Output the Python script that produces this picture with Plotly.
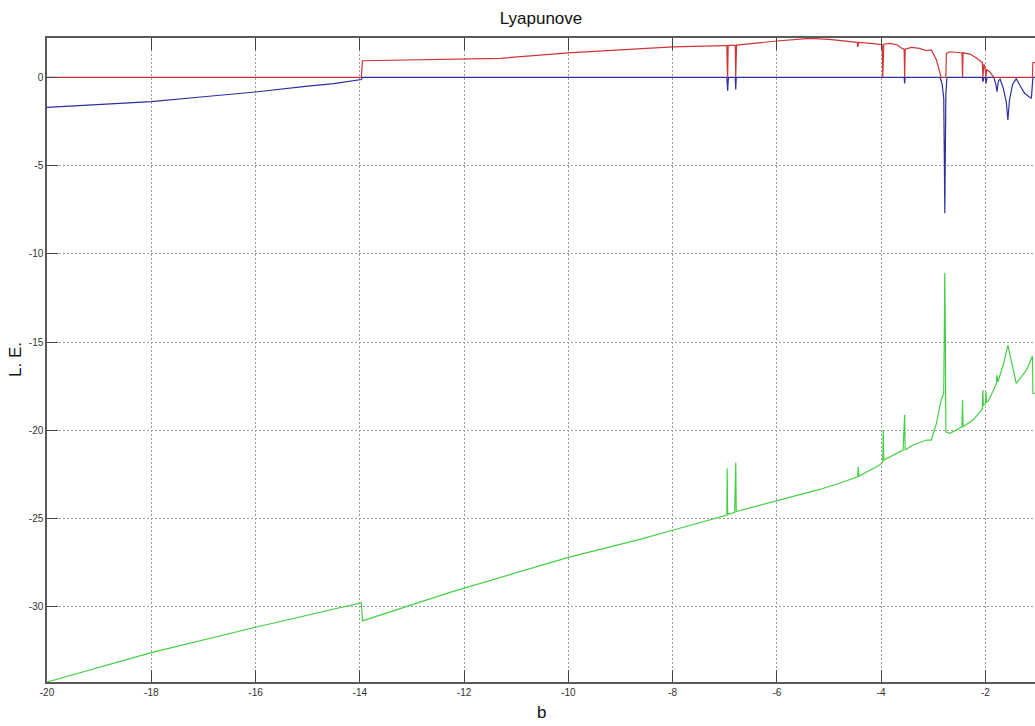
import plotly.graph_objects as go

# Lyapunov exponent spectrum versus parameter b (three exponents)

# largest exponent (red)
b_le1 = [-20.0, -13.97, -13.95, -12.27, -11.3, -10.0, -8.0, -7.0, -6.96, -6.955, -6.945,
         -6.935, -6.80, -6.79, -6.775, -6.0, -5.37, -5.0, -4.8, -4.6, -4.46, -4.45, -4.43,
         -4.1, -4.03, -3.98, -3.97, -3.95, -3.83, -3.7, -3.60, -3.56, -3.55, -3.54, -3.42,
         -3.34, -3.26, -3.13, -3.04, -2.94, -2.88, -2.85, -2.76, -2.75, -2.68, -2.49, -2.45,
         -2.44, -2.43, -2.30, -2.18, -2.08, -2.06, -2.05, -2.03, -2.01, -1.99, -1.98, -1.92,
         -1.84, -1.10, -1.09, -1.05]
le1 = [0.0, 0.0, 0.94, 1.02, 1.08, 1.39, 1.73, 1.80, 1.80, 0.8, 0.0,
       1.81, 1.82, 0.0, 1.83, 2.06, 2.21, 2.15, 2.10, 2.02, 1.98, 1.73, 1.98,
       1.90, 1.89, 1.85, 0.0, 1.88, 1.93, 1.85, 1.64, 1.60, 0.0, 1.59, 1.70,
       1.66, 1.64, 1.51, 1.55, 0.98, 0.23, 0.0, 0.0, 1.36, 1.45, 1.39, 1.38,
       0.0, 1.39, 1.32, 1.11, 0.88, 0.85, 0.0, 0.75, 0.55, 0.0, 0.45, 0.32,
       0.0, 0.0, 0.83, 0.85]

# second exponent (blue)
b_le2 = [-20.0, -19.0, -18.0, -17.0, -16.0, -15.0, -14.5, -13.97, -13.95, -6.96, -6.945,
         -6.93, -6.80, -6.79, -6.78, -3.56, -3.55, -3.54, -2.87, -2.83, -2.80, -2.79,
         -2.78, -2.77, -2.76, -2.74, -2.06, -2.05, -2.03, -2.00, -1.99, -1.97, -1.84,
         -1.80, -1.78, -1.75, -1.72, -1.66, -1.60, -1.57, -1.54, -1.48, -1.41, -1.33,
         -1.25, -1.12, -1.09, -1.05]
le2 = [-1.70, -1.55, -1.38, -1.10, -0.83, -0.50, -0.35, -0.12, 0.0, 0.0, -0.76,
       0.0, 0.0, -0.68, 0.0, 0.0, -0.34, 0.0, 0.0, -0.4, -1.2, -4.3,
       -7.7, -4.3, -1.0, 0.0, 0.0, -0.25, 0.0, 0.0, -0.34, 0.0, 0.0,
       -0.4, -0.81, -0.2, -0.1, -0.6, -1.4, -2.42, -1.3, -0.4, -0.08, -0.5,
       -0.9, -1.19, 0.0, 0.0]

# third exponent (green)
b_le3 = [-20.0, -18.0, -16.0, -13.97, -13.95, -12.27, -10.0, -8.63, -8.0, -6.96, -6.955,
         -6.945, -6.81, -6.805, -6.80, -6.79, -6.78, -5.56, -5.18, -4.8, -4.45, -4.44,
         -4.43, -4.03, -3.97, -3.96, -3.95, -3.58, -3.55, -3.54, -3.39, -3.13, -3.04,
         -2.94, -2.85, -2.80, -2.79, -2.78, -2.77, -2.76, -2.68, -2.49, -2.45, -2.44,
         -2.43, -2.24, -2.08, -2.06, -2.05, -2.04, -2.00, -1.99, -1.98, -1.95, -1.79,
         -1.78, -1.76, -1.66, -1.57, -1.50, -1.41, -1.21, -1.10, -1.09, -1.05]
le3 = [-34.26, -32.6, -31.16, -29.77, -30.8, -29.18, -27.2, -26.18, -25.66, -24.8, -22.15,
       -24.75, -24.66, -22.6, -24.6, -21.84, -24.6, -23.67, -23.35, -23.0, -22.63, -22.06,
       -22.6, -21.97, -21.8, -19.98, -21.68, -21.12, -19.13, -21.12, -20.83, -20.55, -20.55,
       -19.6, -18.28, -17.9, -14.4, -11.07, -14.4, -20.08, -20.17, -19.89, -19.8, -18.28,
       -19.8, -19.42, -18.85, -18.8, -17.72, -18.6, -18.5, -17.8, -18.4, -18.38, -17.34,
       -16.87, -17.25, -16.3, -15.17, -16.2, -17.34, -16.58, -15.79, -17.9, -17.9]

x_ticks = [-20, -18, -16, -14, -12, -10, -8, -6, -4, -2]
x_tick_text = ["-20", "-18", "-16", "-14", "-12", "-10", "-8", "-6", "-4", "-2"]
y_ticks = [0, -5, -10, -15, -20, -25, -30]
y_tick_text = ["0", "-5", "-10", "-15", "-20", "-25", "-30"]

fig = go.Figure()
fig.add_trace(go.Scatter(x=b_le2, y=le2, mode="lines",
                         line=dict(color="#2e2ea0", width=1.2), showlegend=False))
fig.add_trace(go.Scatter(x=b_le1, y=le1, mode="lines",
                         line=dict(color="#d03434", width=1.2), showlegend=False))
fig.add_trace(go.Scatter(x=b_le3, y=le3, mode="lines",
                         line=dict(color="#44d044", width=1.2), showlegend=False))

tick_font = dict(family="Liberation Sans Narrow, Arial Narrow, Liberation Sans, Arial",
                 size=10, color="#333333")

fig.update_layout(
    width=1035, height=726,
    margin=dict(l=47, r=0, t=38, b=44),
    paper_bgcolor="white", plot_bgcolor="white",
    title=dict(text="Lyapunove", x=0.5, xref="paper", xanchor="center",
               y=1 - 18 / 726, yref="container", yanchor="middle",
               font=dict(family="Liberation Sans, Arial", size=17, color="#111111")),
    xaxis=dict(range=[-20, -1.05], tickvals=x_ticks, ticktext=x_tick_text,
               showline=True, linecolor="#5a5a5a", linewidth=1.5, mirror="ticks",
               ticks="inside", ticklen=12, tickcolor="#444444", tickwidth=1.2,
               showgrid=True, gridcolor="#9a9a9a", gridwidth=1, griddash="2px,2px",
               zeroline=False, tickfont=tick_font),
    yaxis=dict(range=[-34.26, 2.23], tickvals=y_ticks, ticktext=y_tick_text,
               showline=True, linecolor="#5a5a5a", linewidth=1.5,
               ticks="inside", ticklen=11, tickcolor="#444444", tickwidth=1.2,
               showgrid=True, gridcolor="#9a9a9a", gridwidth=1, griddash="2px,2px",
               zeroline=False, tickfont=tick_font),
    annotations=[
        dict(text="b", xref="paper", yref="paper", x=0.5, y=-30 / 644,
             xanchor="center", yanchor="middle", showarrow=False,
             font=dict(family="Liberation Sans, Arial", size=17, color="#111111")),
        dict(text="L. E.", xref="paper", yref="paper", x=-32 / 988, y=0.5,
             xanchor="center", yanchor="middle", showarrow=False, textangle=-90,
             font=dict(family="Liberation Sans, Arial", size=17, color="#111111")),
    ],
)

fig.write_html("out.html")
